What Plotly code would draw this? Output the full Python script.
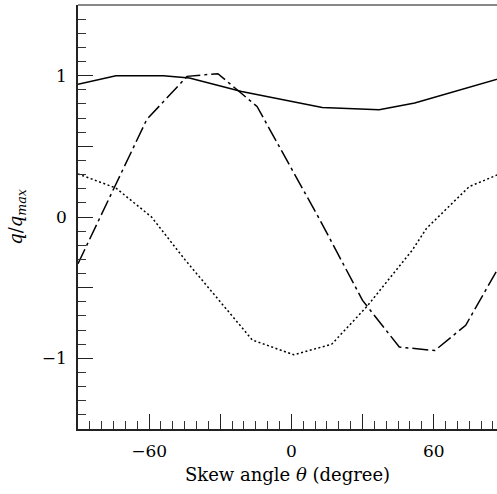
import plotly.graph_objects as go

# Data
solid_x = [-90, -74, -54, -43, -21, 13, 37, 52, 90]
solid_y = [0.94, 1.0, 1.0, 0.984, 0.888, 0.775, 0.759, 0.806, 0.99]

dashdot_x = [-90, -61, -44, -31, -14.5, 12, 30, 45.5, 60.5, 73.5, 90]
dashdot_y = [-0.33, 0.69, 0.995, 1.014, 0.782, -0.02, -0.59, -0.92, -0.945, -0.766, -0.28]

dotted_x = [-90, -74, -59, -45, -16.5, 1, 17, 32, 51, 57, 75, 90]
dotted_y = [0.305, 0.205, 0.0, -0.3, -0.87, -0.975, -0.90, -0.63, -0.234, -0.08, 0.215, 0.32]

x_tickvals = [-90, -60, -30, 0, 30, 60, 90]
x_ticktext = ["", "\u221260", "", "0", "", "60", ""]
y_tickvals = [-1.5, -1, -0.5, 0, 0.5, 1, 1.5]
y_ticktext = ["", "\u22121", "", "0", "", "1", ""]

FONT = "DejaVu Serif"

fig = go.Figure()
fig.add_trace(go.Scatter(x=solid_x, y=solid_y, mode="lines",
                         line=dict(color="black", width=1.5, dash="solid")))
fig.add_trace(go.Scatter(x=dashdot_x, y=dashdot_y, mode="lines",
                         line=dict(color="black", width=1.5, dash="16px,4px,3px,4px")))
fig.add_trace(go.Scatter(x=dotted_x, y=dotted_y, mode="lines",
                         line=dict(color="black", width=1.5, dash="2px,2.5px")))

axis_common = dict(
    showgrid=False, zeroline=False, showline=True, linecolor="#222", linewidth=1.5,
    ticks="inside", ticklen=15, tickwidth=1.2, tickcolor="#222",
    tickfont=dict(family=FONT, size=17, color="black"),
    mirror=False,
)

fig.update_layout(
    width=497, height=494,
    margin=dict(l=78, r=0, t=5, b=65),
    paper_bgcolor="white", plot_bgcolor="white",
    showlegend=False,
    xaxis=dict(**axis_common, range=[-90, 86.7], tickmode="array",
               tickvals=x_tickvals, ticktext=x_ticktext,
               minor=dict(ticks="inside", ticklen=8, dtick=5, tick0=0,
                          tickcolor="#333", tickwidth=1),
               ticklabelstandoff=6,
               title=dict(text="Skew angle <i>\u03b8</i> (degree)",
                          font=dict(family=FONT, size=18, color="black"),
                          standoff=8)),
    yaxis=dict(**axis_common, range=[-1.5, 1.5], tickmode="array",
               tickvals=y_tickvals, ticktext=y_ticktext,
               minor=dict(ticks="inside", ticklen=8, dtick=0.1, tick0=0,
                          tickcolor="#333", tickwidth=1),
               ticklabelstandoff=6,
               title=dict(text="<i>q</i>/<i>q</i><sub><i>max</i></sub>",
                          font=dict(family=FONT, size=18, color="black"),
                          standoff=14)),
    shapes=[dict(type="line", xref="paper", yref="paper", x0=0, x1=1, y0=1, y1=1,
                 line=dict(color="#888", width=2))],
)

fig.write_html("out.html")
